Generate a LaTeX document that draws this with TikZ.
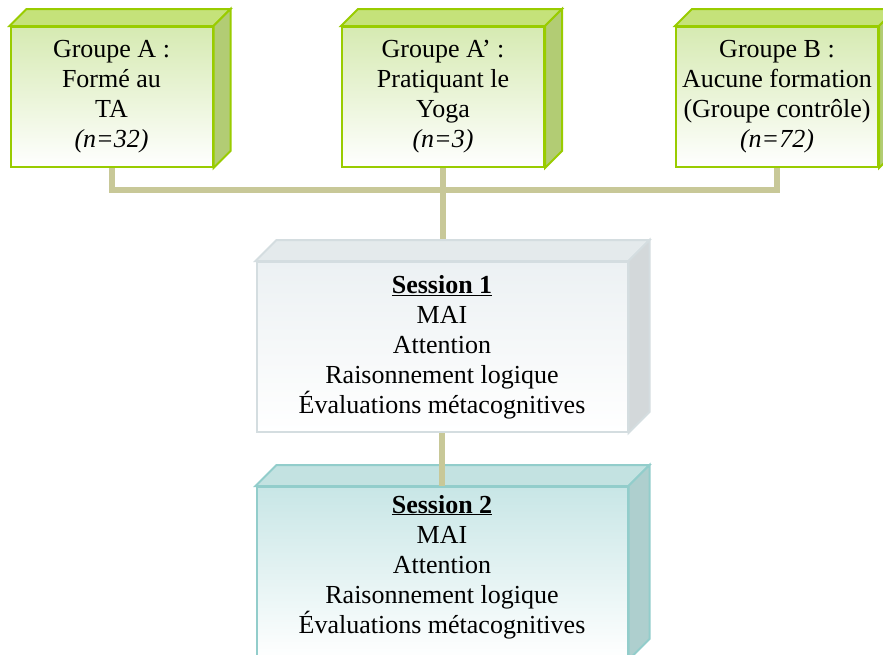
\documentclass[tikz,border=0pt]{standalone}
\usepackage{fontspec}
\setmainfont{Liberation Serif}
\usetikzlibrary{backgrounds}
\definecolor{gborder}{RGB}{153,204,0}
\definecolor{gtop}{RGB}{197,226,122}
\definecolor{gside}{RGB}{178,204,116}
\definecolor{gfront}{RGB}{214,234,178}
\definecolor{sborder}{RGB}{212,221,224}
\definecolor{stop}{RGB}{228,234,236}
\definecolor{sside}{RGB}{211,216,218}
\definecolor{sfront}{RGB}{236,241,243}
\definecolor{tborder}{RGB}{146,205,203}
\definecolor{ttop}{RGB}{195,226,225}
\definecolor{tside}{RGB}{174,207,206}
\definecolor{tfront}{RGB}{200,230,230}
\definecolor{conn}{RGB}{200,200,152}
\tikzset{
  txt/.style={font=\fontsize{26}{30}\selectfont, align=center, inner sep=2pt},
  groupbox/.style={txt, draw=gborder, line width=2pt, minimum width=202pt, minimum height=140pt,
    top color=gfront, bottom color=white},
  sessone/.style={txt, draw=sborder, line width=2pt, minimum width=371pt, minimum height=170pt,
    top color=sfront, bottom color=white},
  sesstwo/.style={txt, draw=tborder, line width=2pt, minimum width=371pt, minimum height=172pt,
    top color=tfront, bottom color=white},
  connector/.style={draw=conn, line width=6pt},
}
% #1 node, #2 depth, #3 border, #4 top colour, #5 side colour
\newcommand\boxfaces[5]{%
  \draw[draw=#3, fill=#4, line width=2pt, line join=miter]
    (#1.north west) -- ([shift={(#2,-#2)}]#1.north west) -- ([shift={(#2,-#2)}]#1.north east) -- (#1.north east) -- cycle;
  \draw[draw=#3, fill=#5, line width=2pt, line join=miter]
    (#1.north east) -- ([shift={(#2,-#2)}]#1.north east) -- ([shift={(#2,-#2)}]#1.south east) -- (#1.south east) -- cycle;
}
\begin{document}
\begin{tikzpicture}[x=1pt,y=-1pt]
\clip (0,0) rectangle (883,654);

\coordinate (hA) at (111.5,190);
\coordinate (hB) at (777,190);

\node[groupbox] (A) at (111.5,97) {Groupe A :\\Formé au\\TA\\\textit{(n=32)}};
\node[groupbox] (Ap) at (443,97) {Groupe A’ :\\Pratiquant le\\Yoga\\\textit{(n=3)}};
\node[groupbox] (B) at (777,97) {Groupe B :\\Aucune formation\\(Groupe contrôle)\\\textit{(n=72)}};

\node[sessone] (S1) at (442,347) {\textbf{\underline{Session 1}}\\MAI\\Attention\\Raisonnement logique\\Évaluations métacognitives};
\node[sesstwo] (S2) at (442,573) {\textbf{\underline{Session 2}}\\MAI\\Attention\\Raisonnement logique\\Évaluations métacognitives\\[-12pt]\mbox{}};

\begin{scope}[on background layer]
\fill[white] (0,0) rectangle (883,654);
\draw[connector] (A.south) -- (hA) -- (hB) -- (B.south);
\draw[connector] (Ap.south) -- (Ap.south |- S1.north);
\end{scope}

\boxfaces{A}{17}{gborder}{gtop}{gside}
\boxfaces{Ap}{17}{gborder}{gtop}{gside}
\boxfaces{B}{17}{gborder}{gtop}{gside}
\boxfaces{S1}{21}{sborder}{stop}{sside}
\boxfaces{S2}{21}{tborder}{ttop}{tside}

\draw[connector] (S1.south) -- (S2.north);
\end{tikzpicture}
\end{document}
